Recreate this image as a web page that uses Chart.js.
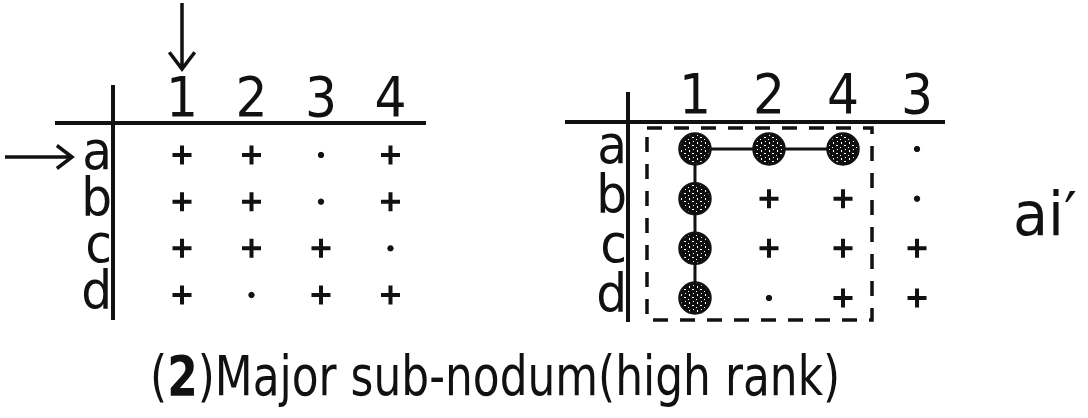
<!DOCTYPE html>
<html>
<head>
<meta charset="utf-8">
<title>Major sub-nodum (high rank)</title>
<script src="https://cdn.jsdelivr.net/npm/chart.js@4.4.1/dist/chart.umd.min.js"></script>
<style>
  html, body { margin: 0; padding: 0; background: #fff; }
  #page { position: relative; width: 1088px; height: 418px; overflow: hidden; background: #fff; }
  .box { position: absolute; top: 0; width: 440px; height: 330px; }
  #left-box { left: 0; }
  #right-box { left: 515px; }
  .label {
    position: absolute; white-space: nowrap; line-height: 1; color: #111;
    font-family: 'DejaVu Sans Condensed', 'DejaVu Sans', sans-serif;
    transform-origin: 0 0;
  }
</style>
</head>
<body>
<div id="page">
  <div class="box" id="left-box"><canvas id="left-chart"></canvas></div>
  <div class="box" id="right-box"><canvas id="right-chart"></canvas></div>
  <div class="label" id="side-label"></div>
  <div class="label" id="caption"></div>
</div>
<script>
// matrix contents: '+' present, '.' absent, 'o' member of the sub-nodum
const rowLabels = ['a', 'b', 'c', 'd'];
const leftColumns = ['1', '2', '3', '4'];
const leftCells = [
  ['+', '+', '.', '+'],
  ['+', '+', '.', '+'],
  ['+', '+', '+', '.'],
  ['+', '.', '+', '+']
];
const rightColumns = ['1', '2', '4', '3'];
const rightCells = [
  ['o', 'o', 'o', '.'],
  ['o', '+', '+', '.'],
  ['o', '+', '+', '+'],
  ['o', '.', '+', '+']
];
const pointedColumn = '1';
const pointedRow = 'a';
const boxColumns = ['1', '4'];
const boxRows = ['a', 'd'];
const sideText = 'ai\u2032';
const captionParts = ['(', '2', ')Major sub-nodum(high rank)'];

const INK = '#111';
const FONT = "'DejaVu Sans Condensed', 'DejaVu Sans', sans-serif";

function cellPoints(cells, mark) {
  const pts = [];
  cells.forEach((row, r) => row.forEach((m, c) => {
    if (m === mark) pts.push({ x: c + 1, y: r + 1 });
  }));
  return pts;
}

// dark speckled fill for the sub-nodum dots
function stipple() {
  const c = document.createElement('canvas');
  c.width = 8; c.height = 8;
  const g = c.getContext('2d');
  g.fillStyle = '#0d0d0d';
  g.fillRect(0, 0, 8, 8);
  g.fillStyle = '#fff';
  [[1, 1], [2, 1], [5, 3], [2, 5], [6, 6], [6, 7]].forEach(([x, y]) => g.fillRect(x, y, 1, 1));
  return g.createPattern(c, 'repeat');
}

function markDatasets(cells) {
  return [
    { label: 'present', data: cellPoints(cells, '+'), pointStyle: 'cross', pointRadius: 9.5,
      borderColor: INK, borderWidth: 4, order: 1 },
    { label: 'absent', data: cellPoints(cells, '.'), pointStyle: 'circle', pointRadius: 2.7,
      backgroundColor: INK, borderColor: INK, borderWidth: 1, order: 1 }
  ];
}

// fixed axis sizes, and no automatic label padding: the layout padding alone places the plot
function pinScale(prop, size) {
  return s => {
    s[prop] = size;
    s.paddingLeft = s.paddingRight = s.paddingTop = s.paddingBottom = 0;
  };
}

function matrixScales(cols, xRange, yRange, xHeight, yWidth, xPad) {
  const fixedTicks = n => s => { s.ticks = Array.from({ length: n }, (_, i) => ({ value: i + 1 })); };
  return {
    x: {
      type: 'linear', position: 'top', min: xRange[0], max: xRange[1],
      afterBuildTicks: fixedTicks(cols.length),
      afterFit: pinScale('height', xHeight),
      grid: { display: false, drawTicks: false }, border: { display: false },
      ticks: { color: INK, padding: xPad, autoSkip: false, maxRotation: 0,
        font: { family: FONT, size: 56, lineHeight: 1 },
        callback: v => cols[v - 1] }
    },
    y: {
      type: 'linear', reverse: true, min: yRange[0], max: yRange[1],
      afterBuildTicks: fixedTicks(rowLabels.length),
      afterFit: pinScale('width', yWidth),
      grid: { display: false, drawTicks: false }, border: { display: false },
      ticks: { color: INK, padding: 1, autoSkip: false,
        font: { family: FONT, size: 54, lineHeight: 0.2 },
        callback: v => rowLabels[v - 1] }
    }
  };
}

// the cross of the table, with its short overhangs
const framePlugin = {
  id: 'frame',
  beforeDatasetsDraw(chart, args, o) {
    const { ctx, chartArea: a } = chart;
    ctx.save();
    ctx.strokeStyle = INK;
    ctx.lineWidth = 4;
    ctx.beginPath();
    ctx.moveTo(a.left - o.leftExt, a.top);
    ctx.lineTo(a.right, a.top);
    ctx.moveTo(a.left, a.top - o.topExt);
    ctx.lineTo(a.left, a.bottom);
    ctx.stroke();
    ctx.restore();
  }
};

function arrow(ctx, x1, y1, x2, y2, head) {
  const ang = Math.atan2(y2 - y1, x2 - x1);
  ctx.beginPath();
  ctx.moveTo(x1, y1);
  ctx.lineTo(x2, y2);
  ctx.moveTo(x2 - head * Math.cos(ang - 0.65), y2 - head * Math.sin(ang - 0.65));
  ctx.lineTo(x2, y2);
  ctx.lineTo(x2 - head * Math.cos(ang + 0.65), y2 - head * Math.sin(ang + 0.65));
  ctx.stroke();
}

const arrowPlugin = {
  id: 'pointers',
  afterDraw(chart) {
    const { ctx, chartArea: a, scales } = chart;
    const cx = scales.x.getPixelForValue(leftColumns.indexOf(pointedColumn) + 1);
    const ry = scales.y.getPixelForValue(rowLabels.indexOf(pointedRow) + 1) + 2;
    ctx.save();
    ctx.strokeStyle = INK;
    ctx.lineWidth = 3.5;
    arrow(ctx, cx, 3, cx, a.top - 54, 21);
    arrow(ctx, 5, ry, a.left - 41, ry, 19);
    ctx.restore();
  }
};

const boxPlugin = {
  id: 'subBox',
  afterDatasetsDraw(chart) {
    const { ctx, scales } = chart;
    const l = scales.x.getPixelForValue(rightColumns.indexOf(boxColumns[0]) + 1) - 48;
    const r = scales.x.getPixelForValue(rightColumns.indexOf(boxColumns[1]) + 1) + 29;
    const t = scales.y.getPixelForValue(rowLabels.indexOf(boxRows[0]) + 1) - 21;
    const b = scales.y.getPixelForValue(rowLabels.indexOf(boxRows[1]) + 1) + 22;
    ctx.save();
    ctx.strokeStyle = INK;
    ctx.lineWidth = 3.5;
    ctx.setLineDash([15, 12]);
    ctx.strokeRect(l, t, r - l, b - t);
    ctx.restore();
  }
};

const baseOptions = {
  responsive: true,
  maintainAspectRatio: false,
  animation: false,
  events: [],
  plugins: { legend: { display: false }, tooltip: { enabled: false } }
};

new Chart(document.getElementById('left-chart'), {
  type: 'scatter',
  data: { datasets: markDatasets(leftCells) },
  options: {
    ...baseOptions,
    layout: { autoPadding: false, padding: { left: 0, top: 0, right: 14, bottom: 10 } },
    scales: matrixScales(leftColumns, [0.007, 4.511], [0.314, 4.536], 123, 113, -6),
    plugins: { ...baseOptions.plugins, frame: { leftExt: 58, topExt: 38 } }
  },
  plugins: [framePlugin, arrowPlugin]
});

const circles = cellPoints(rightCells, 'o');
const linkPath = circles.filter(p => p.y === 1).sort((p, q) => q.x - p.x)
  .concat(circles.filter(p => p.x === 1 && p.y > 1));

new Chart(document.getElementById('right-chart'), {
  type: 'scatter',
  data: {
    datasets: [
      ...markDatasets(rightCells),
      { label: 'link', data: linkPath, showLine: true, pointRadius: 0,
        borderColor: INK, borderWidth: 3, order: 3 },
      { label: 'sub-nodum', data: circles, pointStyle: 'circle', pointRadius: 15.5,
        backgroundColor: stipple(), borderColor: INK, borderWidth: 2.5, order: 0 }
    ]
  },
  options: {
    ...baseOptions,
    layout: { autoPadding: false, padding: { left: 0, top: 0, right: 10, bottom: 8 } },
    scales: matrixScales(rightColumns, [0.095, 4.378], [0.456, 4.483], 122, 113, -4),
    plugins: { ...baseOptions.plugins, frame: { leftExt: 63, topExt: 30 } }
  },
  plugins: [framePlugin, boxPlugin]
});

// free text: the side mark and the caption, squeezed to the width of the lettering
function placeText(el, left, top, size, width) {
  el.style.fontSize = size + 'px';
  el.style.left = left + 'px';
  el.style.top = top + 'px';
  const w = el.getBoundingClientRect().width;
  el.style.transform = 'scaleX(' + (width / w).toFixed(3) + ')';
}

const side = document.getElementById('side-label');
side.textContent = sideText;
placeText(side, 1013, 184, 60, 64);

const caption = document.getElementById('caption');
captionParts.forEach((part, i) => {
  const span = document.createElement('span');
  span.textContent = part;
  if (i === 1) span.style.fontWeight = 'bold';
  caption.appendChild(span);
});
placeText(caption, 150, 349, 55, 690);
</script>
</body>
</html>
